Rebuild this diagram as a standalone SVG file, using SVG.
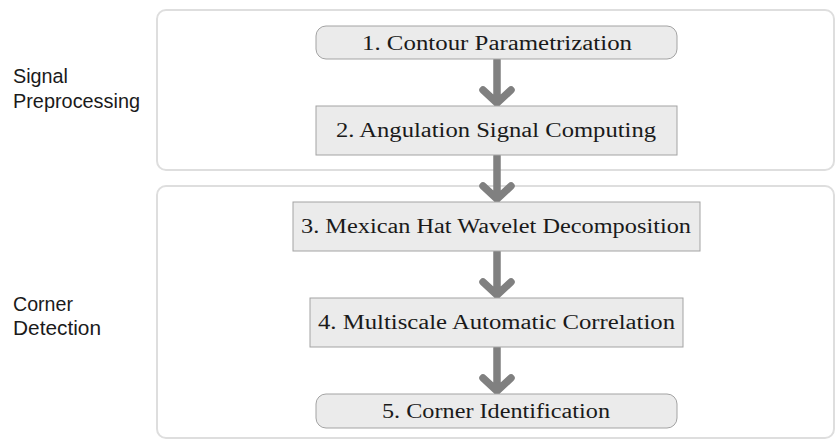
<svg xmlns="http://www.w3.org/2000/svg" width="835" height="440" viewBox="0 0 835 440">
<style>
.grp{fill:#ffffff;stroke:#dedede;stroke-width:2}
.node{fill:#ebebeb;stroke:#a3a3a3;stroke-width:1}
.lbl{font-family:"Liberation Serif","Times New Roman",serif;font-size:20px;fill:#1a1a1a;text-anchor:start}
.side{font-family:"Liberation Sans",Arial,sans-serif;font-size:20.5px;fill:#1a1a1a}
.arr{fill:none;stroke:#808080;stroke-width:7.5;stroke-linecap:round;stroke-linejoin:round}
</style>
<rect class="grp" x="157" y="10" width="677" height="160" rx="9"/>
<rect class="grp" x="157" y="186" width="677" height="252" rx="9"/>
<text class="side" x="13" y="83" textLength="55" lengthAdjust="spacingAndGlyphs">Signal</text>
<text class="side" x="13" y="108" textLength="127" lengthAdjust="spacingAndGlyphs">Preprocessing</text>
<text class="side" x="13" y="311" textLength="60" lengthAdjust="spacingAndGlyphs">Corner</text>
<text class="side" x="13" y="335" textLength="88" lengthAdjust="spacingAndGlyphs">Detection</text>
<g id="connectors">
<path class="arr" d="M497 60 V103 M483 90 L497 103 L511 90"/>
<path class="arr" d="M497 156 V199 M483 186 L497 199 L511 186"/>
<path class="arr" d="M497 252 V295 M483 282 L497 295 L511 282"/>
<path class="arr" d="M497 348 V391 M483 378 L497 391 L511 378"/>
</g>
<g id="n1"><rect class="node" x="316" y="26" width="361" height="33" rx="10"/><text class="lbl" x="362" y="49.5" textLength="270" lengthAdjust="spacingAndGlyphs">1. Contour Parametrization</text></g>
<g id="n2"><rect class="node" x="316" y="106" width="361" height="49"/><text class="lbl" x="336" y="137" textLength="320" lengthAdjust="spacingAndGlyphs">2. Angulation Signal Computing</text></g>
<g id="n3"><rect class="node" x="293" y="202" width="407" height="49"/><text class="lbl" x="301" y="233" textLength="390" lengthAdjust="spacingAndGlyphs">3. Mexican Hat Wavelet Decomposition</text></g>
<g id="n4"><rect class="node" x="310" y="298" width="373" height="49"/><text class="lbl" x="318" y="329" textLength="357" lengthAdjust="spacingAndGlyphs">4. Multiscale Automatic Correlation</text></g>
<g id="n5"><rect class="node" x="316" y="394" width="361" height="34" rx="10"/><text class="lbl" x="382" y="417.5" textLength="228" lengthAdjust="spacingAndGlyphs">5. Corner Identification</text></g>
</svg>
